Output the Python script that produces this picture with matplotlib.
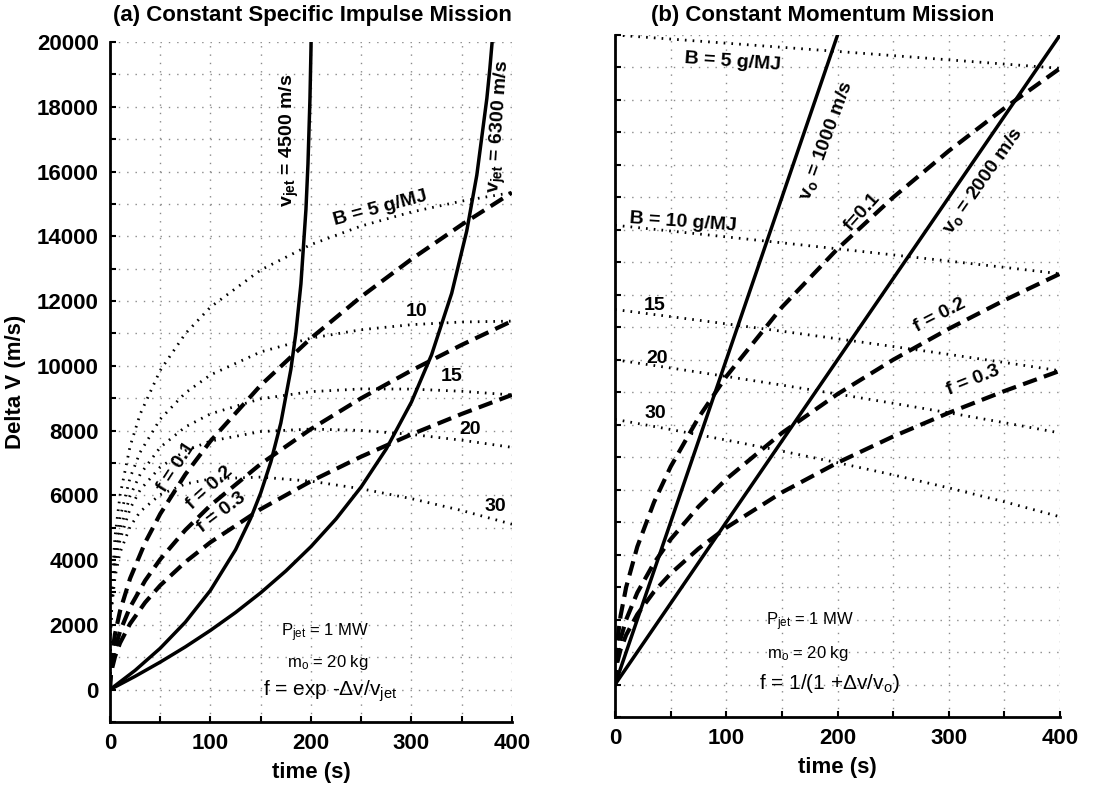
import matplotlib
matplotlib.use("Agg")
import matplotlib.pyplot as plt
from matplotlib.ticker import MultipleLocator, NullFormatter

plt.rcParams['font.family'] = ['Liberation Sans', 'DejaVu Sans']
plt.rcParams['font.weight'] = 'bold'
plt.rcParams['axes.labelweight'] = 'bold'
plt.rcParams['mathtext.fontset'] = 'custom'
plt.rcParams['mathtext.rm'] = 'Liberation Sans:weight=normal'
plt.rcParams['mathtext.bf'] = 'Liberation Sans:weight=bold'
plt.rcParams['mathtext.it'] = 'Liberation Sans:italic:weight=normal'

# ---- (a) constant specific impulse mission ----
t_isp_b = [0, 0.25, 1, 2, 5, 10, 20, 30, 50, 75, 100, 150, 200, 250, 300, 350, 400]
b5_isp = [0, 1530, 2623, 3400, 4730, 5999, 7512, 8507, 9860, 10993, 11814, 12961, 13745, 14318, 14750, 15087, 15351]
b10_isp = [0, 1421, 2404, 3091, 4242, 5311, 6545, 7330, 8354, 9164, 9719, 10430, 10854, 11115, 11271, 11353, 11380]
b15_isp = [0, 1357, 2276, 2910, 3957, 4911, 5985, 6647, 7483, 8113, 8516, 8982, 9202, 9286, 9281, 9214, 9101]
b20_isp = [0, 1311, 2186, 2782, 3756, 4628, 5589, 6167, 6873, 7376, 7675, 7969, 8047, 8004, 7882, 7703, 7482]
b30_isp = [0, 1247, 2058, 2602, 3473, 4232, 5035, 5496, 6023, 6351, 6507, 6563, 6436, 6203, 5897, 5532, 5108]

t_isp_f = [0, 0.25, 1, 2, 5, 10, 20, 35, 50, 75, 100, 150, 200, 250, 300, 350, 400]
f01_isp = [0, 384, 767, 1085, 1716, 2427, 3432, 4541, 5427, 6647, 7675, 9400, 10854, 12135, 13294, 14359, 15350]
f02_isp = [0, 285, 569, 805, 1273, 1800, 2545, 3367, 4024, 4929, 5691, 6970, 8048, 8999, 9857, 10647, 11382]
f03_isp = [0, 228, 455, 644, 1018, 1439, 2035, 2692, 3218, 3941, 4551, 5574, 6436, 7196, 7883, 8514, 9102]

t_v4500 = [0, 25, 50, 75, 100, 125, 140, 150, 160, 170, 180, 185, 190, 195, 197, 199, 200, 200.3]
v4500 = [0, 593, 1277, 2083, 3066, 4322, 5290, 6075, 7025, 8232, 9888, 11020, 12530, 14830, 16230, 18260, 19775, 20360]
t_v6300 = [0, 25, 50, 75, 100, 125, 150, 175, 200, 225, 250, 275, 300, 320, 340, 355, 365, 375, 378, 381]
v6300 = [0, 410, 849, 1320, 1830, 2383, 2991, 3664, 4416, 5272, 6262, 7437, 8883, 10340, 12238, 14165, 15885, 18255, 19180, 20271]

# ---- (b) constant momentum mission ----
t_mom_b = [0, 50, 100, 150, 200, 250, 300, 350, 400]
b5_mom = [20000, 19875, 19748, 19621, 19494, 19365, 19235, 19105, 18974]
b10_mom = [14142, 13964, 13784, 13601, 13416, 13229, 13038, 12845, 12649]
b15_mom = [11547, 11328, 11106, 10878, 10646, 10408, 10165, 9916, 9661]
b20_mom = [10000, 9747, 9487, 9220, 8944, 8660, 8367, 8062, 7746]
b30_mom = [8165, 7853, 7528, 7188, 6831, 6455, 6055, 5627, 5164]

t_mom_f = [0, 0.25, 1, 2, 5, 10, 20, 35, 50, 75, 100, 150, 200, 250, 300, 350, 400]
f01_mom = [0, 474, 949, 1342, 2121, 3000, 4243, 5612, 6708, 8216, 9487, 11619, 13416, 15000, 16432, 17748, 18974]
f02_mom = [0, 316, 632, 894, 1414, 2000, 2828, 3742, 4472, 5477, 6325, 7746, 8944, 10000, 10954, 11832, 12649]
f03_mom = [0, 242, 483, 683, 1080, 1528, 2160, 2858, 3416, 4183, 4830, 5916, 6831, 7638, 8367, 9037, 9661]

t_v1000 = [0, 200]
v1000 = [0, 20000]
t_v2000 = [0, 400]
v2000 = [0, 20000]

solidStyle = dict(color='k', lw=2.5, linestyle='-')
dashStyle = dict(color='k', lw=3, linestyle=(0, (3.5, 1.8)))
dotStyle = dict(color='k', lw=2, linestyle=(0, (0.6, 2.2)))


def styleAxis(ax, showY):
    ax.set_xlim(0, 400)
    ax.set_ylim(-1000, 20000)
    ax.xaxis.set_major_locator(MultipleLocator(100))
    ax.xaxis.set_minor_locator(MultipleLocator(50))
    ax.yaxis.set_major_locator(MultipleLocator(2000))
    ax.yaxis.set_minor_locator(MultipleLocator(1000))
    ax.grid(which='both', color='#8a8a8a', linestyle=(0, (1, 5)), linewidth=1)
    for side in ['top', 'right']:
        ax.spines[side].set_visible(False)
    for side in ['left', 'bottom']:
        ax.spines[side].set_linewidth(2)
    ax.tick_params(which='both', direction='in', length=4, width=1.5, labelsize=16, pad=8)
    if not showY:
        ax.yaxis.set_major_formatter(NullFormatter())
    ax.set_xlabel('time (s)', fontsize=16, fontweight='bold', labelpad=6)


fig = plt.figure(figsize=(11.12, 7.9), dpi=100)
axL = fig.add_axes([0.0989, 0.0861, 0.3615, 0.8607])
axR = fig.add_axes([0.5531, 0.0924, 0.4002, 0.8633])

# left panel
styleAxis(axL, True)
axL.set_ylabel('Delta V (m/s)', fontsize=16, fontweight='bold', labelpad=8)
for yy in [b5_isp, b10_isp, b15_isp, b20_isp, b30_isp]:
    axL.plot(t_isp_b, yy, **dotStyle)
for yy in [f01_isp, f02_isp, f03_isp]:
    axL.plot(t_isp_f, yy, **dashStyle)
axL.plot(t_v4500, v4500, **solidStyle)
axL.plot(t_v6300, v6300, **solidStyle)

axL.text(179, 16970, r'v$_{\mathbf{jet}}$ = 4500 m/s', rotation=90, fontsize=14, ha='center', va='center')
axL.text(388, 17380, r'v$_{\mathbf{jet}}$ = 6300 m/s', rotation=86, fontsize=14, ha='center', va='center')
axL.text(269, 14880, 'B = 5 g/MJ', rotation=15, fontsize=14, ha='center', va='center')
axL.text(305, 11670, '10', fontsize=14, ha='center', va='center')
axL.text(340, 9670, '15', fontsize=14, ha='center', va='center')
axL.text(358, 8020, '20', fontsize=14, ha='center', va='center')
axL.text(383, 5650, '30', fontsize=14, ha='center', va='center')
axL.text(66, 6880, 'f = 0.1', rotation=57, fontsize=14, ha='center', va='center')
axL.text(99, 6230, 'f = 0.2', rotation=42, fontsize=14, ha='center', va='center')
axL.text(111, 5460, 'f = 0.3', rotation=37, fontsize=14, ha='center', va='center')
axL.text(214, 1760, r'P$_{\rm jet}$ = 1 MW', fontsize=12, weight='normal', ha='center', va='center')
axL.text(217, 830, r'm$_{\rm o}$ = 20 kg', fontsize=12, weight='normal', ha='center', va='center')
axL.text(219, -60, r'f = exp -Δv/v$_{\rm jet}$', fontsize=15, weight='normal', ha='center', va='center')

# right panel
styleAxis(axR, False)
for yy in [b5_mom, b10_mom, b15_mom, b20_mom, b30_mom]:
    axR.plot(t_mom_b, yy, **dotStyle)
for yy in [f01_mom, f02_mom, f03_mom]:
    axR.plot(t_mom_f, yy, **dashStyle)
axR.plot(t_v1000, v1000, **solidStyle)
axR.plot(t_v2000, v2000, **solidStyle)

axR.text(106, 19170, 'B = 5 g/MJ', rotation=-4, fontsize=14, ha='center', va='center')
axR.text(61, 14230, 'B = 10 g/MJ', rotation=-4, fontsize=14, ha='center', va='center')
axR.text(36, 11670, '15', fontsize=14, ha='center', va='center')
axR.text(38, 10030, '20', fontsize=14, ha='center', va='center')
axR.text(36, 8330, '30', fontsize=14, ha='center', va='center')
axR.text(190, 16760, r'v$_{\mathbf{o}}$ = 1000 m/s', rotation=70, fontsize=14, ha='center', va='center')
axR.text(331, 15520, r'v$_{\mathbf{o}}$ = 2000 m/s', rotation=55, fontsize=14, ha='center', va='center')
axR.text(222, 14540, 'f=0.1', rotation=48, fontsize=14, ha='center', va='center')
axR.text(292, 11360, 'f = 0.2', rotation=27, fontsize=14, ha='center', va='center')
axR.text(322, 9350, 'f = 0.3', rotation=22, fontsize=14, ha='center', va='center')
axR.text(175, 1940, r'P$_{\rm jet}$ = 1 MW', fontsize=12, weight='normal', ha='center', va='center')
axR.text(173, 950, r'm$_{\rm o}$ = 20 kg', fontsize=12, weight='normal', ha='center', va='center')
axR.text(193, 30, r'f = 1/(1 +Δv/v$_{\rm o}$)', fontsize=15, weight='normal', ha='center', va='center')

fig.text(312 / 1112, 1 - 15 / 790, '(a) Constant Specific Impulse Mission', fontsize=16, ha='center', va='center')
fig.text(823 / 1112, 1 - 15 / 790, '(b) Constant Momentum Mission', fontsize=16, ha='center', va='center')

fig.savefig('out.png', dpi=100)
